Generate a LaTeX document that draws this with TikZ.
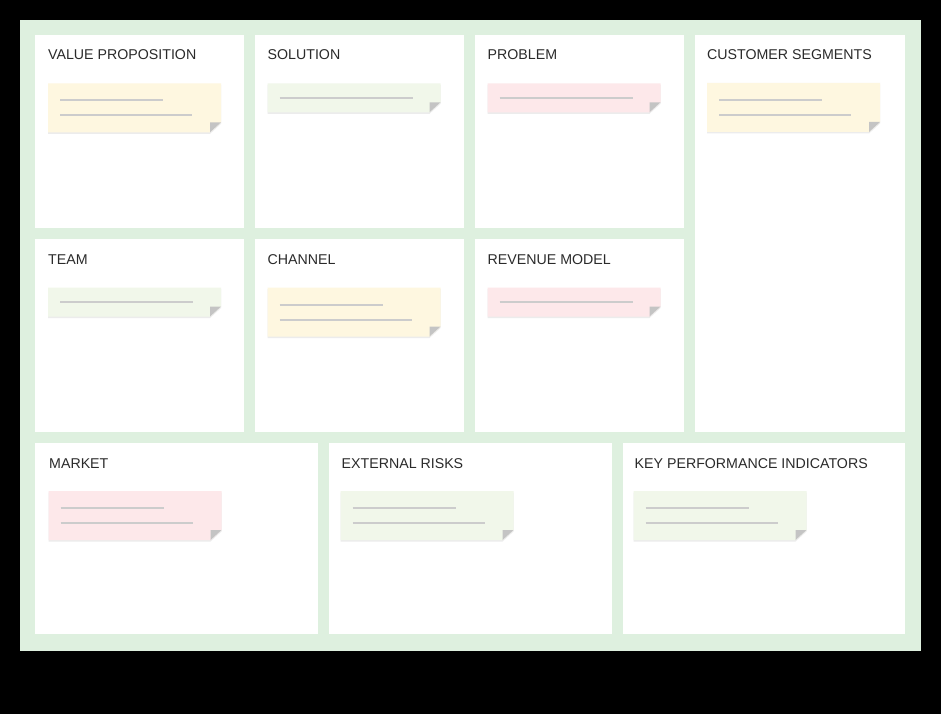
\documentclass[tikz,border=0pt]{standalone}
\usepackage{fontspec}
\setmainfont{Liberation Sans}
\definecolor{panelc}{HTML}{DEF0DF}
\definecolor{yelc}{HTML}{FEF7E0}
\definecolor{grnc}{HTML}{F1F7EA}
\definecolor{pnkc}{HTML}{FDE8EA}
\definecolor{linec}{HTML}{CCCCCC}
\definecolor{foldc}{HTML}{C4C4C4}
\definecolor{shadc}{HTML}{ECECEC}
\definecolor{txtc}{HTML}{2A2A2A}
\tikzset{
  cellbox/.style={fill=white, draw=none, anchor=north west, inner sep=0, outer sep=0},
  titletext/.style={anchor=base west, inner sep=0, text=txtc, font=\fontsize{14.2}{17}\selectfont},
  noteline/.style={draw=linec, line width=2pt},
}
\newcommand\stickytwo[2]{%
\begin{scope}[shift={#1}]
\fill[shadc] (0,1.5) -- (173,1.5) -- (173,40.5) -- (162,50.5) -- (0,50.5) -- cycle;
\fill[#2] (0,0) -- (173,0) -- (173,39) -- (162,49) -- (0,49) -- cycle;
\fill[foldc] (162,39) -- (173,39) -- (162,49) -- cycle;
\draw[noteline] (12,17) -- (115,17);
\draw[noteline] (12,32) -- (144,32);
\end{scope}}
\newcommand\stickyone[2]{%
\begin{scope}[shift={#1}]
\fill[shadc] (0,1.5) -- (173,1.5) -- (173,20.5) -- (162,30.5) -- (0,30.5) -- cycle;
\fill[#2] (0,0) -- (173,0) -- (173,19) -- (162,29) -- (0,29) -- cycle;
\fill[foldc] (162,19) -- (173,19) -- (162,29) -- cycle;
\draw[noteline] (12,14.5) -- (145,14.5);
\end{scope}}
\begin{document}
\begin{tikzpicture}[x=1pt,y=-1pt]
\useasboundingbox (0,0) rectangle (941,714);
\fill[black] (0,0) rectangle (941,714);
\fill[panelc] (20,20) rectangle (921,651);
% row 1
\node[cellbox, minimum width=209pt, minimum height=193pt] (vp) at (35,35) {};
\node[cellbox, minimum width=209pt, minimum height=193pt] (sol) at (255,35) {};
\node[cellbox, minimum width=209pt, minimum height=193pt] (prob) at (475,35) {};
\node[cellbox, minimum width=210pt, minimum height=397pt] (cust) at (695,35) {};
% row 2
\node[cellbox, minimum width=209pt, minimum height=193pt] (team) at (35,239) {};
\node[cellbox, minimum width=209pt, minimum height=193pt] (chan) at (255,239) {};
\node[cellbox, minimum width=209pt, minimum height=193pt] (rev) at (475,239) {};
% row 3
\node[cellbox, minimum width=283pt, minimum height=191pt] (mkt) at (35,443) {};
\node[cellbox, minimum width=283pt, minimum height=191pt] (ext) at (329,443) {};
\node[cellbox, minimum width=282pt, minimum height=191pt] (kpi) at (623,443) {};
% titles
\node[titletext] (tvp) at (48,59.5) {VALUE PROPOSITION};
\node[titletext] (tsol) at (267.5,59.5) {SOLUTION};
\node[titletext] (tprob) at (487.5,59.5) {PROBLEM};
\node[titletext] (tcust) at (707,59.5) {CUSTOMER SEGMENTS};
\node[titletext] (tteam) at (48,264.3) {TEAM};
\node[titletext] (tchan) at (267.5,264.3) {CHANNEL};
\node[titletext] (trev) at (487.5,264.3) {REVENUE MODEL};
\node[titletext] (tmkt) at (49,468.3) {MARKET};
\node[titletext] (text) at (341.5,468.3) {EXTERNAL RISKS};
\node[titletext] (tkpi) at (634.5,468.3) {KEY PERFORMANCE INDICATORS};
% sticky notes
\stickytwo{(48,83.3)}{yelc}
\stickyone{(267.5,83.3)}{grnc}
\stickyone{(487.5,83.3)}{pnkc}
\stickytwo{(707,83)}{yelc}
\stickyone{(48,287.5)}{grnc}
\stickytwo{(267.5,287.5)}{yelc}
\stickyone{(487.5,287.5)}{pnkc}
\stickytwo{(48.5,491)}{pnkc}
\stickytwo{(340.5,491)}{grnc}
\stickytwo{(633.5,491)}{grnc}
\end{tikzpicture}
\end{document}
